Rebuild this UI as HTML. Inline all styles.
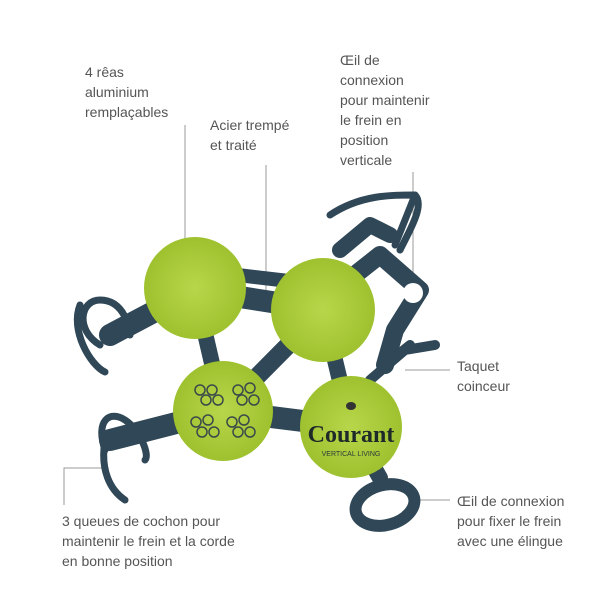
<!DOCTYPE html>
<html><head><meta charset="utf-8"><style>
body{margin:0;background:#fff;width:600px;height:600px;overflow:hidden;position:relative;font-family:"Liberation Sans",sans-serif;}
.t{position:absolute;color:#555;font-size:14px;line-height:20px;}
</style></head><body>
<svg width="600" height="600" style="position:absolute;left:0;top:0">
<defs>
<radialGradient id="g" cx="50%" cy="50%" r="55%"><stop offset="0" stop-color="#b8d64a"/><stop offset="1" stop-color="#9cbf2c"/></radialGradient>
</defs>
<g stroke="#999" stroke-width="1" fill="none">
<line x1="185" y1="125" x2="185" y2="245"/>
<line x1="266" y1="165" x2="266" y2="290"/>
<line x1="413" y1="172" x2="413" y2="283"/>
<line x1="405" y1="370" x2="450" y2="370"/>
<line x1="412" y1="500" x2="450" y2="500"/>
<polyline points="64,505 64,468 103,468"/>
</g>
<g stroke="#2f4756" fill="none" stroke-linecap="round" stroke-linejoin="round">
<!-- plates -->
<path d="M110,335 L195,290 L323,310" stroke-width="22"/>
<path d="M110,440 L223,411 L351,427" stroke-width="22"/>
<path d="M195,290 L223,411" stroke-width="16"/>
<path d="M223,411 L323,310" stroke-width="18"/>
<path d="M195,270 L323,285" stroke-width="14"/>
<path d="M323,310 L351,427" stroke-width="16"/>
<path d="M323,300 L380,255 L420,290 L395,330 L385,365" stroke-width="18"/>
<path d="M340,250 L370,225 L390,235" stroke-width="16"/>
<path d="M370,380 L405,350 L435,345" stroke-width="10"/>
<path d="M385,365 L410,345" stroke-width="10"/>
<path d="M351,427 L380,478" stroke-width="16"/>
<!-- pigtails -->
<path d="M100,345 C75,330 80,300 100,300 C125,300 130,330 130,335" stroke-width="7"/>
<path d="M80,305 C70,330 90,365 105,372" stroke-width="7"/>
<path d="M105,450 C95,420 110,410 125,420 C140,430 150,455 145,460" stroke-width="7"/>
<path d="M105,440 C100,470 110,490 125,500" stroke-width="7"/>
<path d="M330,215 C360,195 390,195 415,195 C425,205 410,230 400,250" stroke-width="7"/>
<path d="M395,245 L415,195" stroke-width="7"/>
<!-- bottom eye -->
<ellipse cx="385" cy="505" rx="30" ry="20" transform="rotate(-15 385 505)" stroke-width="12"/>
</g>
<circle cx="413" cy="293" r="10" fill="#fff"/>
<circle cx="195" cy="288" r="51" fill="url(#g)"/>
<circle cx="323" cy="310" r="52" fill="url(#g)"/>
<circle cx="223" cy="411" r="50" fill="url(#g)"/>
<circle cx="351" cy="427" r="51" fill="url(#g)"/>
<g fill="none" stroke="#3a4a4a" stroke-width="1.5">
<circle cx="200" cy="390" r="5"/><circle cx="212" cy="390" r="5"/><circle cx="206" cy="400" r="5"/><circle cx="218" cy="400" r="5"/>
<circle cx="238" cy="390" r="5"/><circle cx="250" cy="388" r="5"/><circle cx="242" cy="400" r="5"/><circle cx="254" cy="400" r="5"/>
<circle cx="196" cy="422" r="5"/><circle cx="208" cy="420" r="5"/><circle cx="202" cy="432" r="5"/><circle cx="214" cy="432" r="5"/>
<circle cx="232" cy="422" r="5"/><circle cx="244" cy="420" r="5"/><circle cx="238" cy="432" r="5"/><circle cx="250" cy="432" r="5"/>
</g>
<ellipse cx="351" cy="406" rx="5" ry="4" fill="#333"/>
<text x="351" y="442" text-anchor="middle" font-family="Liberation Serif,serif" font-size="24" font-weight="bold" fill="#1e2a2a">Courant</text>
<text x="351" y="456" text-anchor="middle" font-family="Liberation Sans,sans-serif" font-size="7" fill="#2a3a3a">VERTICAL LIVING</text>
</svg>
<div class="t" style="left:85px;top:62px">4 rêas<br>aluminium<br>remplaçables</div>
<div class="t" style="left:210px;top:115px">Acier trempé<br>et traité</div>
<div class="t" style="left:340px;top:50px">Œil de<br>connexion<br>pour maintenir<br>le frein en<br>position<br>verticale</div>
<div class="t" style="left:457px;top:356px">Taquet<br>coinceur</div>
<div class="t" style="left:457px;top:491px">Œil de connexion<br>pour fixer le frein<br>avec une élingue</div>
<div class="t" style="left:62px;top:511px">3 queues de cochon pour<br>maintenir le frein et la corde<br>en bonne position</div>
</body></html>
